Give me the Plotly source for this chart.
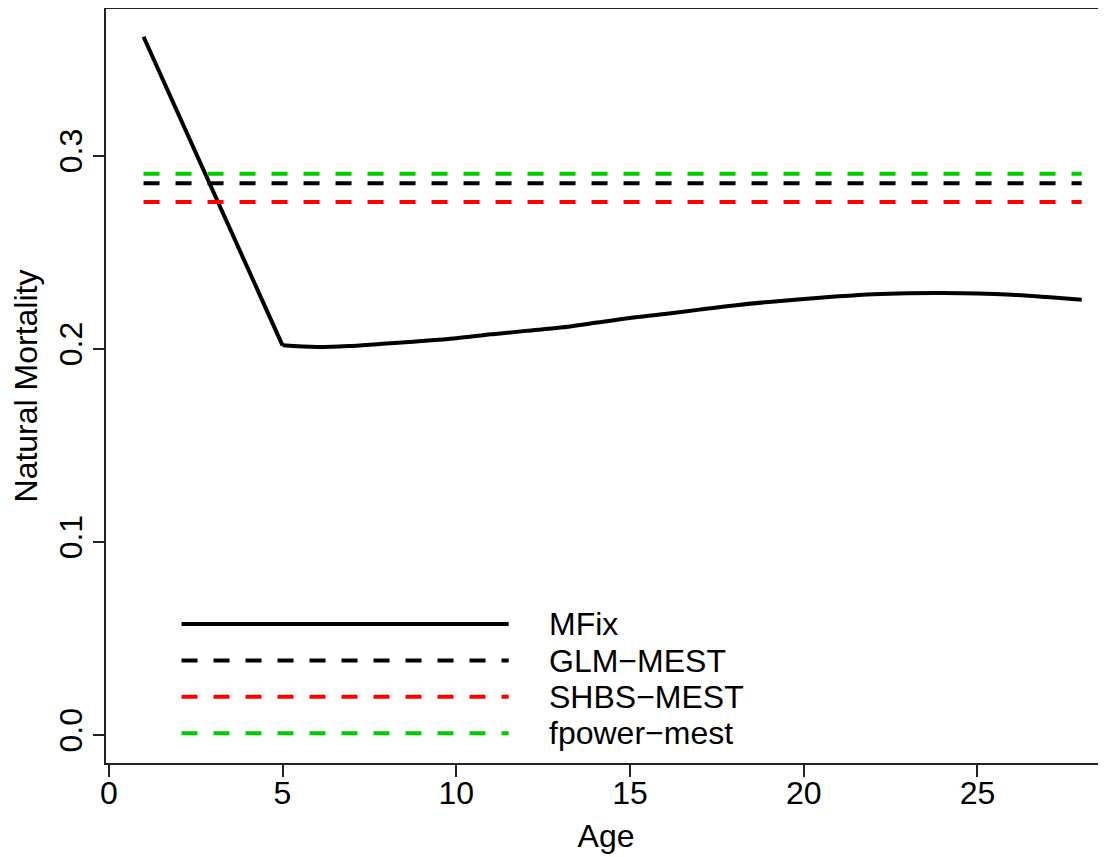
import plotly.graph_objects as go

# ---- data ----
ages = list(range(1, 29))
mfix = [0.3616, 0.3217, 0.2817, 0.2418, 0.2018, 0.2009, 0.2015, 0.2027, 0.2040, 0.2055,
        0.2075, 0.2093, 0.2110, 0.2135, 0.2160, 0.2180, 0.2203, 0.2225, 0.2243, 0.2258,
        0.2272, 0.2283, 0.2288, 0.2289, 0.2287, 0.2280, 0.2268, 0.2254]
glm_mest = 0.2857
shbs_mest = 0.2760
fpower_mest = 0.2907

series_names = ["MFix", "GLM\u2212MEST", "SHBS\u2212MEST", "fpower\u2212mest"]
series_colors = ["#000000", "#000000", "#FF0000", "#00CD00"]
series_dash = ["solid", "16px,16px", "16px,16px", "16px,16px"]

x_ticks = [0, 5, 10, 15, 20, 25]
y_ticks = [0.0, 0.1, 0.2, 0.3]
y_tick_text = ["0.0", "0.1", "0.2", "0.3"]

FONT = "Liberation Sans, Arial, Helvetica, sans-serif"
FS = 32

fig = go.Figure()

# MFix: linear decline to age 5, smooth curve afterwards
knot = ages.index(5)
fig.add_trace(go.Scatter(x=ages[:knot + 1], y=mfix[:knot + 1], mode="lines",
                         name=series_names[0],
                         line=dict(color=series_colors[0], width=4, dash=series_dash[0]),
                         showlegend=False))
fig.add_trace(go.Scatter(x=ages[knot:], y=mfix[knot:], mode="lines",
                         name=series_names[0],
                         line=dict(color=series_colors[0], width=4, dash=series_dash[0],
                                   shape="spline", smoothing=1.0),
                         showlegend=False))
for i, v in enumerate([glm_mest, shbs_mest, fpower_mest], start=1):
    fig.add_trace(go.Scatter(x=[ages[0], ages[-1]], y=[v, v], mode="lines",
                             name=series_names[i],
                             line=dict(color=series_colors[i], width=4, dash=series_dash[i]),
                             showlegend=False))

# manual legend (R-style, no box)
leg_x0, leg_x1, leg_tx = 0.0755, 0.4027, 0.441
leg_y = [0.1845, 0.1358, 0.0877, 0.0395]
shapes = []
annotations = []
for name, col, dsh, yy in zip(series_names, series_colors, series_dash, leg_y):
    shapes.append(dict(type="line", xref="paper", yref="paper",
                       x0=leg_x0, x1=leg_x1, y0=yy, y1=yy,
                       line=dict(color=col, width=4, dash=dsh)))
    annotations.append(dict(x=leg_tx, y=yy, xref="paper", yref="paper",
                            text=name, showarrow=False, xanchor="left", yanchor="middle",
                            font=dict(family=FONT, size=FS, color="black")))

fig.update_layout(
    width=1106, height=857,
    margin=dict(l=98, r=8, t=1, b=102, autoexpand=False),
    paper_bgcolor="white", plot_bgcolor="white",
    font=dict(family=FONT, size=FS, color="black"),
    shapes=shapes, annotations=annotations,
    showlegend=False,
)

fig.update_xaxes(
    range=[-0.08, 28.70], tickvals=x_ticks, ticktext=[str(t) for t in x_ticks],
    showgrid=False, zeroline=False, automargin=False,
    showline=True, mirror=True, linecolor="#222222", linewidth=2,
    ticks="outside", ticklen=12, tickwidth=2, tickcolor="#222222",
    ticklabelstandoff=-11,
    tickfont=dict(family=FONT, size=FS),
    title=dict(text="Age", font=dict(family=FONT, size=FS), standoff=14),
)
fig.update_yaxes(
    range=[-0.0145, 0.376], tickvals=y_ticks, ticktext=y_tick_text,
    showgrid=False, zeroline=False, automargin=False,
    showline=True, mirror=False, linecolor="#222222", linewidth=2,
    ticks="outside", ticklen=11, tickwidth=2, tickcolor="#222222",
    tickangle=-90, ticklabelstandoff=-2,
    tickfont=dict(family=FONT, size=FS),
    title=dict(text="Natural Mortality", font=dict(family=FONT, size=FS), standoff=9),
)

fig.write_html("out.html")
